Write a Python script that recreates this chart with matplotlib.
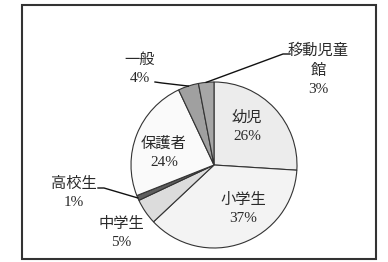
import matplotlib
matplotlib.use("Agg")
import matplotlib.pyplot as plt
import numpy as np
from matplotlib.patches import Rectangle

plt.rcParams['font.family'] = ['Liberation Serif', 'Noto Sans CJK JP', 'DejaVu Sans']

# data (clockwise from 12 o'clock)
labels = ['幼児', '小学生', '中学生', '高校生', '保護者', '一般', '移動児童\n館']
values = [26, 37, 5, 1, 24, 4, 3]
colors = ['#ececec', '#f3f3f3', '#dcdcdc', '#5e5e5e', '#fafafa', '#a0a0a0', '#a6a6a6']

# layout in pixel units (y up)
W, H = 388, 262
cx, cy, R = 214, 97, 83
# label centres (pixels, y up)
label_pos = [(247, 135), (243, 53), (121, 29), (74, 69), (164, 109), (140, 193), (318, 192)]
# leader lines: text-side point and the short horizontal stub end
leader_pts = {3: [(98, 74), (104, 74)], 5: [(155, 180), (162, 179)], 6: [(290, 208), (283, 208)]}

fig = plt.figure(figsize=(W / 100, H / 100), dpi=100)
ax = fig.add_axes([0, 0, 1, 1])

wedges, _ = ax.pie(values, colors=colors, startangle=90, counterclock=False,
                   center=(cx, cy), radius=R, frame=True,
                   wedgeprops=dict(edgecolor='#333333', linewidth=0.8))
ax.set_xlim(0, W)
ax.set_ylim(0, H)
ax.axis('off')

total = sum(values)
cum = np.cumsum([0] + values)
for i, (lab, v) in enumerate(zip(labels, values)):
    x, y = label_pos[i]
    ax.text(x, y, f"{lab}\n{v}%", ha='center', va='center', fontsize=11,
            color='#2a2a2a', linespacing=1.55)
    if i in leader_pts:
        mid = (cum[i] + cum[i + 1]) / 2 / total
        ang = np.radians(90 - mid * 360)
        ex, ey = cx + R * np.cos(ang), cy + R * np.sin(ang)
        (sx, sy), (tx, ty) = leader_pts[i]
        ax.plot([sx, tx, ex], [sy, ty, ey], color='#111111', lw=1.0)

fig.patches.append(Rectangle((22 / W, 3 / H), 354 / W, 254 / H, transform=fig.transFigure,
                             fill=False, edgecolor='#333333', linewidth=1.5))

fig.savefig('out.png', dpi=100, facecolor='white')
